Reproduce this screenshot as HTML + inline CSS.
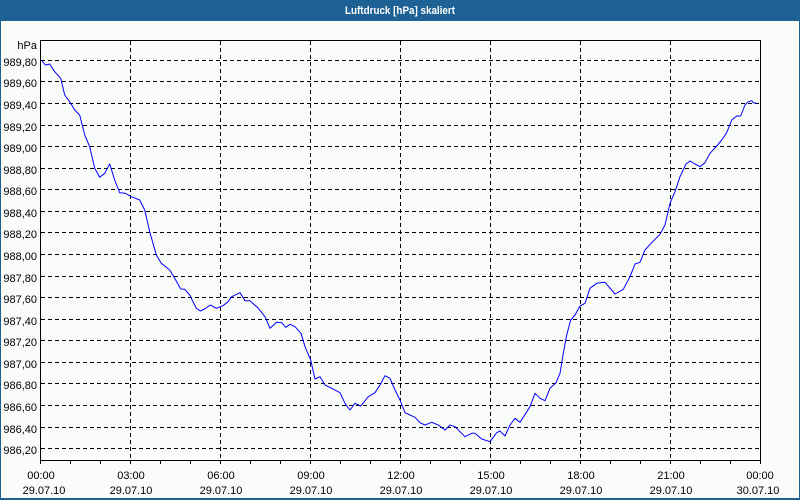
<!DOCTYPE html>
<html><head><meta charset="utf-8"><style>
html,body{margin:0;padding:0;background:#fff;}
svg{display:block;}
text{font-family:"Liberation Sans",Arial,sans-serif;font-size:11px;fill:#000;}
</style></head><body>
<svg width="800" height="500" viewBox="0 0 800 500" xmlns="http://www.w3.org/2000/svg">
<rect x="0" y="0" width="800" height="500" fill="#1e6295"/>
<rect x="1" y="21" width="798" height="477" fill="#fafcfa"/>
<text x="400" y="14" text-anchor="middle" style="font-weight:bold;fill:#fff" textLength="110" lengthAdjust="spacingAndGlyphs">Luftdruck [hPa] skaliert</text>
<g stroke="#000" stroke-width="1" stroke-dasharray="4,3" shape-rendering="crispEdges">
<line x1="41" y1="60.5" x2="760" y2="60.5"/>
<line x1="41" y1="81.5" x2="760" y2="81.5"/>
<line x1="41" y1="103.5" x2="760" y2="103.5"/>
<line x1="41" y1="125.5" x2="760" y2="125.5"/>
<line x1="41" y1="146.5" x2="760" y2="146.5"/>
<line x1="41" y1="168.5" x2="760" y2="168.5"/>
<line x1="41" y1="189.5" x2="760" y2="189.5"/>
<line x1="41" y1="211.5" x2="760" y2="211.5"/>
<line x1="41" y1="232.5" x2="760" y2="232.5"/>
<line x1="41" y1="254.5" x2="760" y2="254.5"/>
<line x1="41" y1="276.5" x2="760" y2="276.5"/>
<line x1="41" y1="297.5" x2="760" y2="297.5"/>
<line x1="41" y1="319.5" x2="760" y2="319.5"/>
<line x1="41" y1="340.5" x2="760" y2="340.5"/>
<line x1="41" y1="362.5" x2="760" y2="362.5"/>
<line x1="41" y1="383.5" x2="760" y2="383.5"/>
<line x1="41" y1="405.5" x2="760" y2="405.5"/>
<line x1="41" y1="427.5" x2="760" y2="427.5"/>
<line x1="41" y1="448.5" x2="760" y2="448.5"/>
<line x1="130.5" y1="41" x2="130.5" y2="460"/>
<line x1="220.5" y1="41" x2="220.5" y2="460"/>
<line x1="310.5" y1="41" x2="310.5" y2="460"/>
<line x1="400.5" y1="41" x2="400.5" y2="460"/>
<line x1="490.5" y1="41" x2="490.5" y2="460"/>
<line x1="580.5" y1="41" x2="580.5" y2="460"/>
<line x1="670.5" y1="41" x2="670.5" y2="460"/>
</g>
<g stroke="#000" stroke-width="1" shape-rendering="crispEdges" fill="none">
<rect x="40.5" y="40.5" width="720" height="420"/>
<path d="M40.5 461v3M70.5 461v3M100.5 461v3M130.5 461v3M160.5 461v3M190.5 461v3M220.5 461v3M250.5 461v3M280.5 461v3M310.5 461v3M340.5 461v3M370.5 461v3M400.5 461v3M430.5 461v3M460.5 461v3M490.5 461v3M520.5 461v3M550.5 461v3M580.5 461v3M610.5 461v3M640.5 461v3M670.5 461v3M700.5 461v3M730.5 461v3M760.5 461v3"/>
</g>
<polyline fill="none" stroke="#0000ff" stroke-width="1" stroke-linejoin="round" points="
41.3,60 45.3,65 49.7,64 54.7,71.7 60.7,78.3 64.7,95 69.7,101.7 74.7,110 79.7,115 84.7,135 89.7,146.7 94.7,168.3 99.7,177.3 104.7,173.3 109.7,164 114.7,180 119.7,192.7 125.3,193.3 131.3,196.7 139.7,200 144.7,210 149.7,231.7 156.3,255 161.3,263.3 169.7,270 174.7,278.3 180.7,289 184.7,289.3 189.7,295 196.3,308.3 200.3,311 204.7,309 210.3,305 216.3,308.3 223,305.7 228,301.7 231.7,296.7 240,292.7 245,300.7 250,300.7 258.3,308.3 265,316.7 270,328.3 276.7,322.3 281.7,322.7 285.7,327.3 290,324.3 295,326.7 301,333.3 305,346.7 310.7,360 315,379 320,376.7 325,385 331.7,388.3 340,392.7 345,403.3 350,410 355,403.3 360.7,406 368.3,396.7 375,392.7 380,385 385,375.7 390,378.3 395,390 400,400 405,412.7 410,415 415,417.3 420,422.7 425,425 431.7,422.3 438.3,425 445,430 450,425 455,426.7 465,436.7 471.7,433.3 475,433.3 481.7,439 490,441.7 496.7,432.7 500,431 505,436 510,425 515,418.3 520,422.3 530,406.7 535,393.3 540,398.3 545,400.7 550,388.3 556,382.7 560,373.3 563.3,353.3 566.7,335 570.7,320 575,315 580,306 585,303.3 590,288.3 596.7,283.3 605,282.3 615,294 623.3,289.3 630,276.7 635,264 640,262.3 645,250 651.7,242.7 660,234.3 665,225 670,203.3 675,191.7 680,176.7 686,164 690,161 695,164 700,166.7 705,162.7 710,153.3 716.7,146 721.7,140 726.7,132.7 731.7,120 736.7,116 740.7,116 745,105 748.3,101.7 751.7,100.7 753.3,102.7 756.7,103.3"/>
<g text-anchor="end">
<text x="37" y="49">hPa</text>
<text x="37" y="66">989,80</text>
<text x="37" y="87">989,60</text>
<text x="37" y="109">989,40</text>
<text x="37" y="131">989,20</text>
<text x="37" y="152">989,00</text>
<text x="37" y="174">988,80</text>
<text x="37" y="195">988,60</text>
<text x="37" y="217">988,40</text>
<text x="37" y="238">988,20</text>
<text x="37" y="260">988,00</text>
<text x="37" y="282">987,80</text>
<text x="37" y="303">987,60</text>
<text x="37" y="325">987,40</text>
<text x="37" y="346">987,20</text>
<text x="37" y="368">987,00</text>
<text x="37" y="389">986,80</text>
<text x="37" y="411">986,60</text>
<text x="37" y="433">986,40</text>
<text x="37" y="454">986,20</text>
</g>
<g text-anchor="middle">
<text x="41" y="479">00:00</text><text x="44" y="494">29.07.10</text>
<text x="131" y="479">03:00</text><text x="131" y="494">29.07.10</text>
<text x="221" y="479">06:00</text><text x="221" y="494">29.07.10</text>
<text x="311" y="479">09:00</text><text x="311" y="494">29.07.10</text>
<text x="401" y="479">12:00</text><text x="401" y="494">29.07.10</text>
<text x="491" y="479">15:00</text><text x="491" y="494">29.07.10</text>
<text x="581" y="479">18:00</text><text x="581" y="494">29.07.10</text>
<text x="671" y="479">21:00</text><text x="671" y="494">29.07.10</text>
<text x="760" y="479">00:00</text><text x="758" y="494">30.07.10</text>
</g>
</svg>
</body></html>
